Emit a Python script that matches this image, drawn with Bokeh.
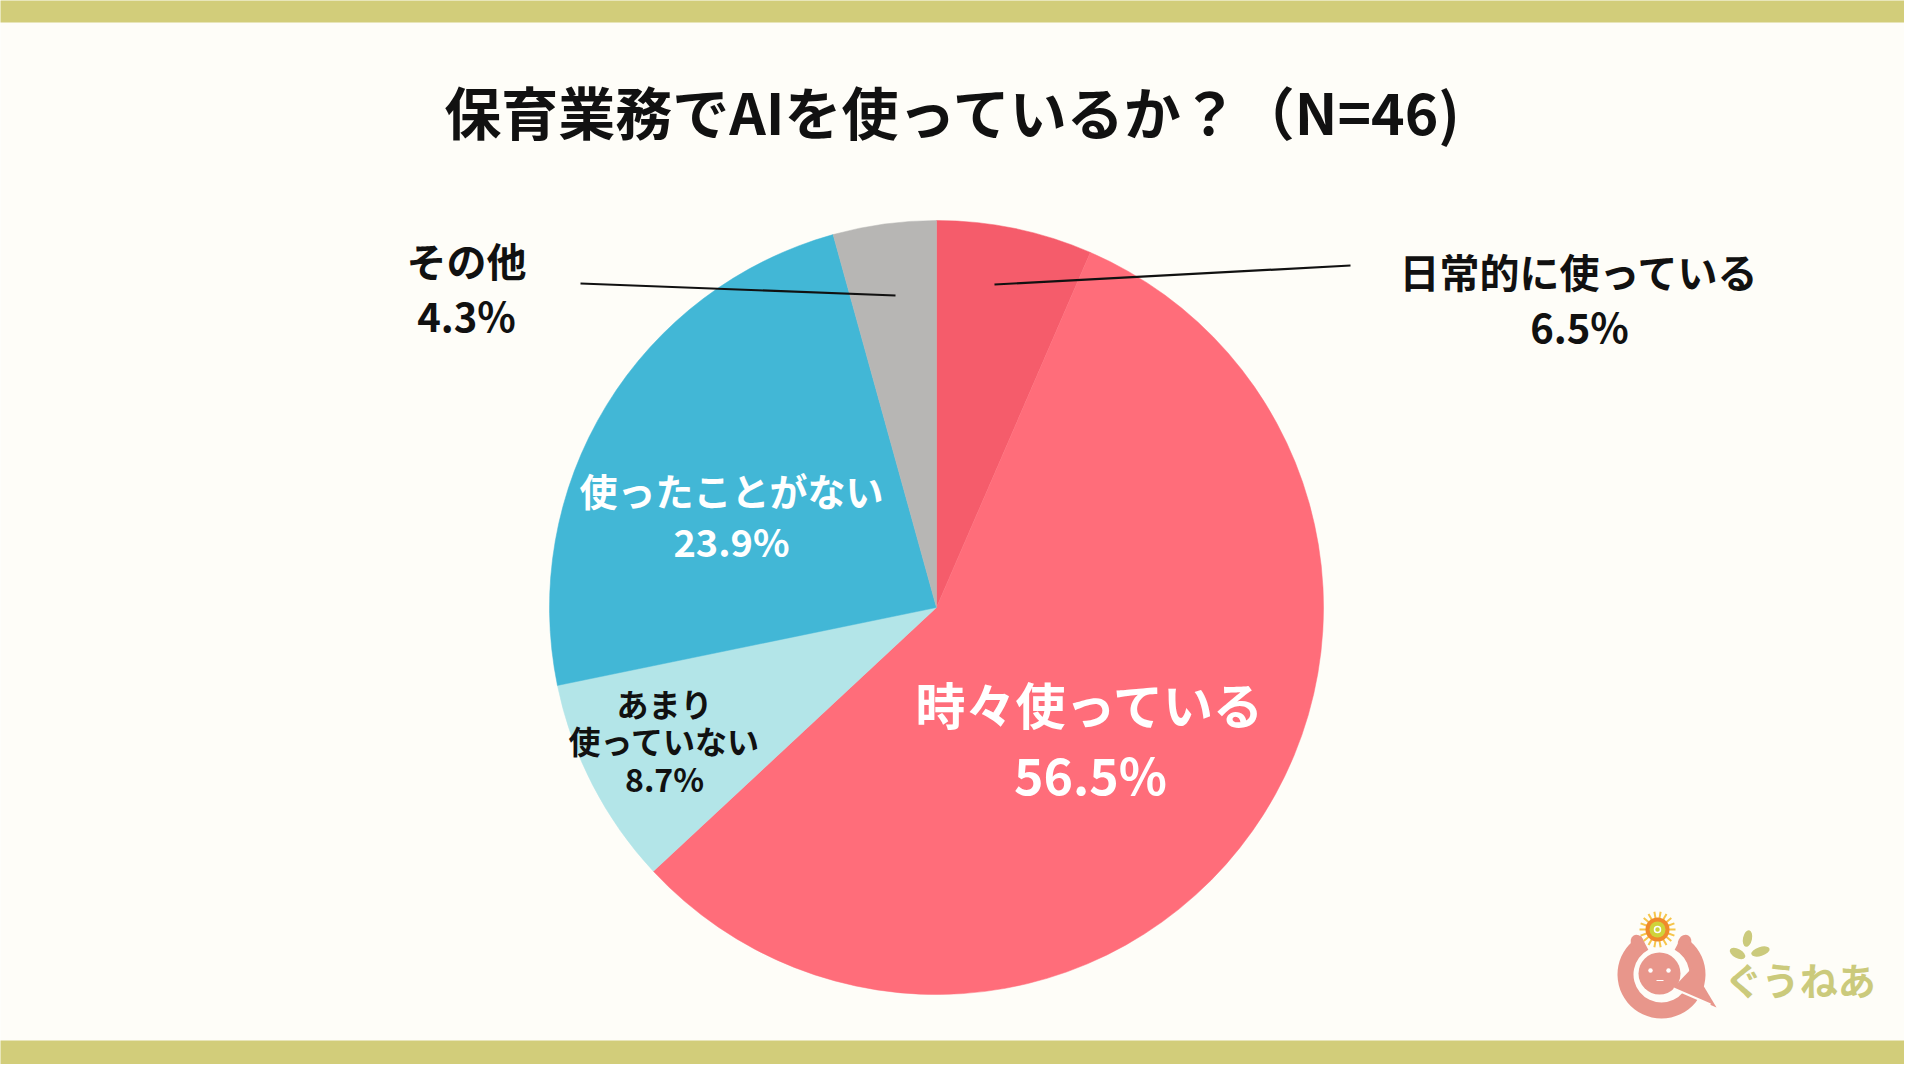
import numpy as np
from bokeh.plotting import figure
from bokeh.models import Range1d
from bokeh.core.properties import value
from bokeh.embed import file_html
from bokeh.resources import INLINE

# ---- data ----
title_text = "保育業務でAIを使っているか？（N=46)"
categories = ["日常的に使っている", "時々使っている", "あまり\n使っていない", "使ったことがない", "その他"]
shares = [6.5, 56.5, 8.7, 23.9, 4.3]
slice_colors = ["#f55c6b", "#ff6d7a", "#b3e5e8", "#42b7d6", "#b7b6b4"]

# ---- layout / style (reference pixel coords, y measured from top) ----
W, H = 1920, 1080
BG = "#fefdf8"
BAND = "#d2cd7a"
FONT = value("Noto Sans CJK JP")
cx, cy_top, R = 944, 615, 387
cy = H - cy_top

# label positions: (x, y_first_line, line_gap, font_px, color)
label_layout = [
    (1587, 278, 55, "40px", "#111111"),
    (1098, 710, 70, "50px", "#ffffff"),
    (672, 710, 37.5, "32px", "#111111"),
    (739, 497, 51, "38px", "#ffffff"),
    (474, 267, 55, "40px", "#111111"),
]
leaders = [
    ((1002, 292), (1358, 273)),
    None, None, None,
    ((903, 303), (588, 291)),
]

p = figure(width=1904, height=1064, x_range=Range1d(8, 1912), y_range=Range1d(8, 1072),
           output_backend="svg", toolbar_location=None, min_border=0)
p.axis.visible = False
p.grid.visible = False
p.outline_line_color = None
p.background_fill_color = BG
p.border_fill_color = BG

# bands
p.quad(left=0, right=W, bottom=H - 30, top=H, fill_color=BAND, line_color=None)
p.quad(left=0, right=W, bottom=0, top=H - 1048, fill_color=BAND, line_color=None)

# title
p.text(x=[961], y=[H - 117], text=[title_text], text_font=FONT, text_font_style="bold",
       text_font_size="57px", text_align="center", text_baseline="middle", text_color="#111111")

# pie
vals = np.array(shares, dtype=float)
frac = vals / vals.sum()
cum = np.concatenate([[0.0], np.cumsum(frac)])
starts = np.pi / 2 - 2 * np.pi * cum[:-1]
ends = np.pi / 2 - 2 * np.pi * cum[1:]
p.wedge(x=cx, y=cy, radius=R, start_angle=starts, end_angle=ends, direction="clock",
        fill_color=slice_colors, line_color=slice_colors, line_width=0.5)

# labels
for cat, v, lay, ld in zip(categories, shares, label_layout, leaders):
    x, y0, gap, fs, col = lay
    lines = cat.split("\n") + [f"{v}%"]
    for i, t in enumerate(lines):
        p.text(x=[x], y=[H - (y0 + i * gap)], text=[t], text_font=FONT, text_font_style="bold",
               text_font_size=fs, text_align="center", text_baseline="middle", text_color=col)
    if ld is not None:
        (x0, y0l), (x1, y1l) = ld
        p.line(x=[x0, x1], y=[H - y0l, H - y1l], line_color="#111111", line_width=2.2)

# ---- logo (approximation) ----
PINK = "#e8968b"
OLIVE = "#cbca7c"
lcx, lcy = 1669, H - 982
# ring of arms, open at the top
p.annular_wedge(x=lcx, y=lcy, inner_radius=28, outer_radius=44,
                start_angle=np.deg2rad(118), end_angle=np.deg2rad(62), direction="anticlock",
                fill_color=PINK, line_color=None)
# hands
p.ellipse(x=[1645, 1692], y=[H - 950, H - 950], width=[13, 13], height=[16, 16],
          angle=[0.5, -0.5], fill_color=PINK, line_color=None)
# head
p.circle(x=1667, y=H - 981, radius=21, fill_color=PINK, line_color=None)
# speech-bubble tail
p.patch(x=[1680, 1724, 1700], y=[H - 996, H - 1015, H - 975], fill_color=PINK, line_color=None)
p.line(x=[1681, 1718], y=[H - 996, H - 1012], line_color=BG, line_width=2)
# face
p.scatter(x=[1658, 1676], y=[H - 978, H - 978], size=4.5, fill_color="white", line_color=None)
p.line(x=[1664, 1671], y=[H - 988, H - 988], line_color="white", line_width=1)
# sun
sun_x, sun_y = 1665, H - 937
ang = np.linspace(0, 2 * np.pi, 18, endpoint=False)
p.segment(x0=sun_x + 11 * np.cos(ang), y0=sun_y + 11 * np.sin(ang),
          x1=sun_x + 18 * np.cos(ang), y1=sun_y + 18 * np.sin(ang),
          line_color="#f6c54a", line_width=2)
p.circle(x=sun_x, y=sun_y, radius=12, fill_color="#f08a2c", line_color=None)
p.circle(x=sun_x, y=sun_y, radius=8, fill_color="#cfd33a", line_color=None)
p.circle(x=sun_x, y=sun_y, radius=3, fill_color=None, line_color="white", line_width=1.5)
# sprout + name
p.ellipse(x=[1745, 1768], y=[H - 961, H - 959], width=[17, 19], height=[9, 9],
          angle=[-0.5, 0.3], fill_color=OLIVE, line_color=None)
p.ellipse(x=[1755], y=[H - 946], width=[9], height=[17], angle=[-0.2],
          fill_color=OLIVE, line_color=None)
p.text(x=[1808], y=[H - 986], text=["ぐうねあ"], text_font=FONT, text_font_style="bold",
       text_font_size="38px", text_align="center", text_baseline="middle", text_color=OLIVE)

open("out.html", "w").write(file_html(p, INLINE))
